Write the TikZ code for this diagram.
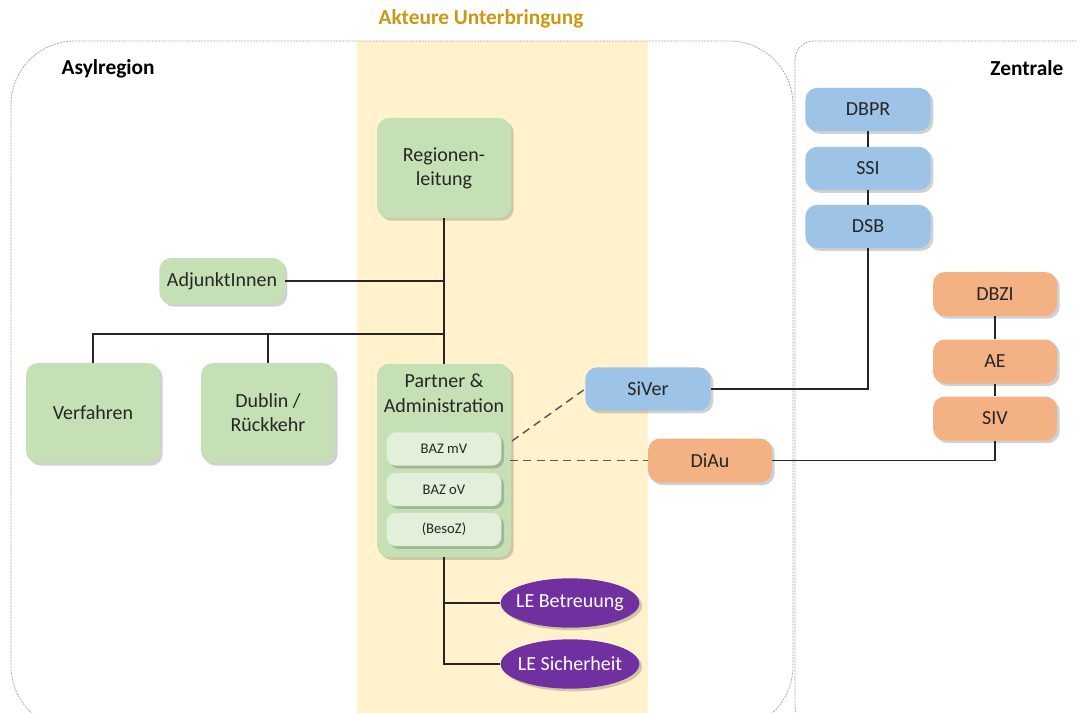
\documentclass[tikz,border=0pt]{standalone}
\usepackage{fontspec}
\setmainfont{Carlito}
\usetikzlibrary{shapes.geometric,shadows}
\definecolor{gfill}{RGB}{197,224,180}
\definecolor{gin}{RGB}{226,239,218}
\definecolor{bfill}{RGB}{157,195,230}
\definecolor{ofill}{RGB}{244,177,131}
\definecolor{pfill}{RGB}{112,48,160}
\definecolor{band}{RGB}{255,242,204}
\definecolor{gold}{RGB}{201,152,20}
\definecolor{frame}{RGB}{170,170,170}
\tikzset{
  shad/.style={drop shadow={shadow xshift=2pt,shadow yshift=-2pt,fill=black,opacity=0.18}},
  box/.style={shad,draw=none,rounded corners=9pt,align=center,font=\fontsize{15}{18}\selectfont,text=black!85},
  gbox/.style={box,fill=gfill,minimum width=100.5pt,minimum height=75pt},
  smallg/.style={box,fill=gfill,minimum width=94pt,minimum height=34.5pt},
  inbox/.style={box,fill=gin,minimum width=86pt,minimum height=25pt,rounded corners=7pt,font=\fontsize{11}{13}\selectfont},
  bbox/.style={box,fill=bfill,minimum width=94pt,minimum height=32.5pt},
  obox/.style={box,fill=ofill,minimum width=93pt,minimum height=33pt},
  ell/.style={shad,ellipse,fill=pfill,draw=none,minimum width=104pt,minimum height=37pt,text=white,font=\fontsize{15}{18}\selectfont,inner xsep=-4pt,inner ysep=0pt},
  conn/.style={draw=black!85,line width=1.1pt},
  dconn/.style={draw=black!65,line width=1.1pt,dash pattern=on 6pt off 4pt},
  regionframe/.style={draw=frame,line width=0.6pt,dash pattern=on 1.5pt off 0.8pt},
  heading/.style={font=\bfseries\fontsize{16}{19}\selectfont},
}
\begin{document}
\begin{tikzpicture}[x=0.75pt,y=-0.75pt]
\useasboundingbox (0,0) rectangle (1077,713);
\fill[white] (0,0) rectangle (1077,713);
\begin{scope}
\clip (0,0) rectangle (1077,713);
\fill[band] (357,41) rectangle (648,713);
\draw[regionframe,rounded corners=48pt] (11,41) rectangle (793,730);
\draw[regionframe,rounded corners=14pt] (795,41) rectangle (1100,725);
\end{scope}
\node[heading,text=gold] (title) at (481,19) {Akteure Unterbringung};
\node[heading,anchor=west] (asyl) at (57,69) {Asylregion};
\node[heading,anchor=east] (zent) at (1068,68) {Zentrale};

% green nodes
\node[gbox] (rl) at (444,168) {Regionen-\\leitung};
\node[smallg] (adj) at (222,281) {AdjunktInnen};
\node[gbox] (verf) at (93,413) {Verfahren};
\node[gbox] (dub) at (268,413) {Dublin /\\Rückkehr};
\node[gbox,minimum height=145pt] (pa) at (444,460.5) {};
\node[font=\fontsize{15}{18.5}\selectfont,align=center,text=black!85] (patext) at (444,393) {Partner \&\\Administration};
\node[inbox] (bmv) at (444,449) {BAZ mV};
\node[inbox] (bov) at (444,489.5) {BAZ oV};
\node[inbox] (bes) at (444,529.5) {(BesoZ)};

% purple
\node[ell] (leb) at (570,603) {LE Betreuung};
\node[ell] (les) at (570,664) {LE Sicherheit};

% blue
\node[bbox] (siver) at (648,389) {SiVer};
\node[bbox] (dbpr) at (868,109.5) {DBPR};
\node[bbox] (ssi) at (868,168.5) {SSI};
\node[bbox] (dsb) at (868,226.5) {DSB};

% orange
\node[obox] (diau) at (710,460.5) {DiAu};
\node[obox] (dbzi) at (995,294) {DBZI};
\node[obox] (ae) at (995,361.5) {AE};
\node[obox] (siv) at (995,418.5) {SIV};

% coordinates
\coordinate (j1) at (444,334);
\coordinate (ja) at (444,281);
\coordinate (jb) at (444,603);
\coordinate (jc) at (444,664);
\coordinate (dA) at (512,441);
\coordinate (dB) at (510,460.5);

% connectors
\draw[conn] (rl.south) -- (j1);
\draw[conn] (adj.east) -- (ja);
\draw[conn] (j1) -- (pa.north);
\draw[conn] (j1) -| (verf.north);
\draw[conn] (j1) -| (dub.north);
\draw[conn] (pa.south) -- (jc) -- (les.west);
\draw[conn] (jb) -- (leb.west);
\draw[conn] (siver.east) -| (dsb.south);
\draw[conn] (diau.east) -| (siv.south);
\draw[conn] (dbpr) -- (ssi);
\draw[conn] (ssi) -- (dsb);
\draw[conn] (dbzi) -- (ae);
\draw[conn] (ae) -- (siv);
\draw[dconn] (dA) -- (siver.west);
\draw[dconn] (dB) -- (diau.west);
\end{tikzpicture}
\end{document}
